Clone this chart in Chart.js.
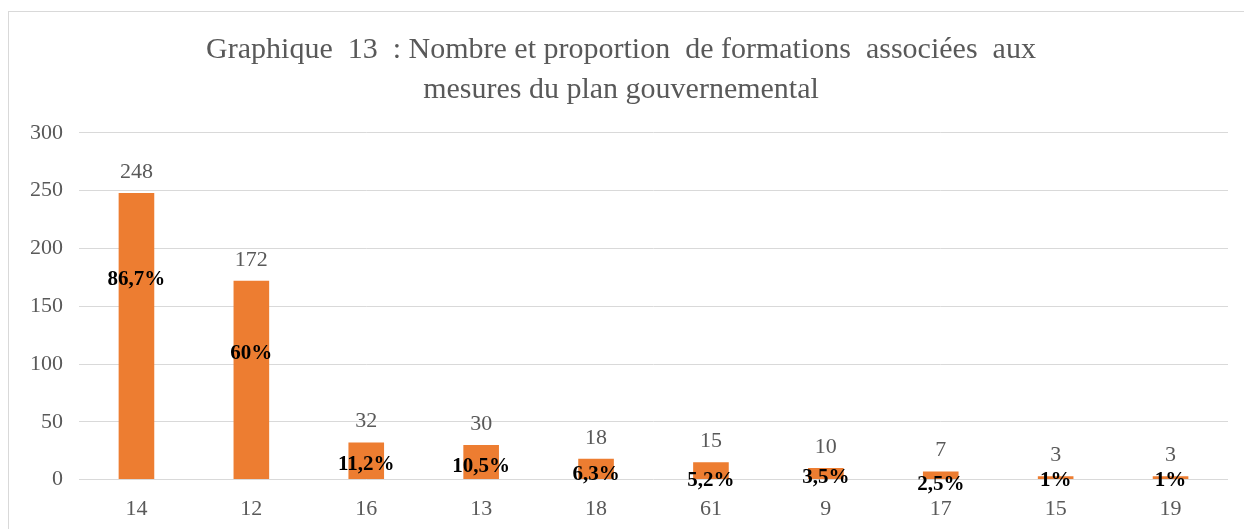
<!DOCTYPE html>
<html>
<head>
<meta charset="utf-8">
<script src="https://cdn.jsdelivr.net/npm/chart.js@4.4.0/dist/chart.umd.min.js"></script>
<style>
    html, body { margin: 0; padding: 0; background: #fff; }
    #wrap { position: relative; width: 1244px; height: 529px; overflow: hidden; }
    #frame { position: absolute; left: 8px; top: 11px; width: 1300px; height: 600px; border: 1px solid #D9D9D9; box-sizing: border-box; }
    #mainChart { position: absolute; left: 0; top: 0; }
</style>
</head>
<body>
<div id="wrap">
    <div id="frame"></div>
    <canvas id="mainChart" width="1244" height="529"></canvas>
</div>
<script>
// Data
const categories = ['14', '12', '16', '13', '18', '61', '9', '17', '15', '19'];
const counts = [248, 172, 32, 30, 18, 15, 10, 7, 3, 3];
const percentLabels = ['86,7%', '60%', '11,2%', '10,5%', '6,3%', '5,2%', '3,5%', '2,5%', '1%', '1%'];
// y value where each percentage label sits
const percentAnchor = [173, 109, 13, 11, 4, -1, 2, -4, -1, -1];
const yTicks = [0, 50, 100, 150, 200, 250, 300];

const SERIF = '"Liberation Serif", "Times New Roman", serif';

// Draw value labels above bars and percentages inside them
const labelPlugin = {
    id: 'barLabels',
    afterDatasetsDraw(chart) {
        const ctx = chart.ctx;
        const meta = chart.getDatasetMeta(0);
        const yScale = chart.scales.y;
        ctx.save();
        ctx.textAlign = 'center';
        meta.data.forEach((bar, i) => {
            ctx.fillStyle = '#595959';
            ctx.font = '22px ' + SERIF;
            ctx.textBaseline = 'middle';
            ctx.fillText(String(counts[i]), bar.x, bar.y - 21);

            ctx.fillStyle = '#000000';
            ctx.font = 'bold 21px ' + SERIF;
            ctx.fillText(percentLabels[i], bar.x, yScale.getPixelForValue(percentAnchor[i]));
        });
        ctx.restore();
    }
};

const ctx = document.getElementById('mainChart');

new Chart(ctx, {
    type: 'bar',
    data: {
        labels: categories,
        datasets: [{
            data: counts,
            backgroundColor: '#ED7D31',
            barPercentage: 0.31,
            categoryPercentage: 1
        }]
    },
    options: {
        responsive: false,
        animation: false,
        layout: {
            padding: { left: 14, right: 16, top: 0, bottom: -9 }
        },
        plugins: {
            legend: { display: false },
            tooltip: { enabled: false },
            title: {
                display: true,
                text: ['Graphique  13  : Nombre et proportion  de formations  associées  aux', 'mesures du plan gouvernemental'],
                color: '#595959',
                font: { family: SERIF, size: 30, weight: 'normal', lineHeight: 1.33 },
                padding: { top: 30, bottom: 23 }
            }
        },
        scales: {
            x: {
                grid: { display: false, drawTicks: false },
                border: { display: false },
                ticks: {
                    color: '#595959',
                    font: { family: SERIF, size: 22 },
                    padding: 16
                }
            },
            y: {
                min: 0,
                max: 300,
                afterBuildTicks(scale) {
                    scale.ticks = yTicks.map(v => ({ value: v }));
                },
                grid: { color: '#D9D9D9', drawTicks: false, lineWidth: 1 },
                border: { display: false },
                ticks: {
                    color: '#595959',
                    font: { family: SERIF, size: 22 },
                    padding: 16
                }
            }
        }
    },
    plugins: [labelPlugin]
});
</script>
</body>
</html>
